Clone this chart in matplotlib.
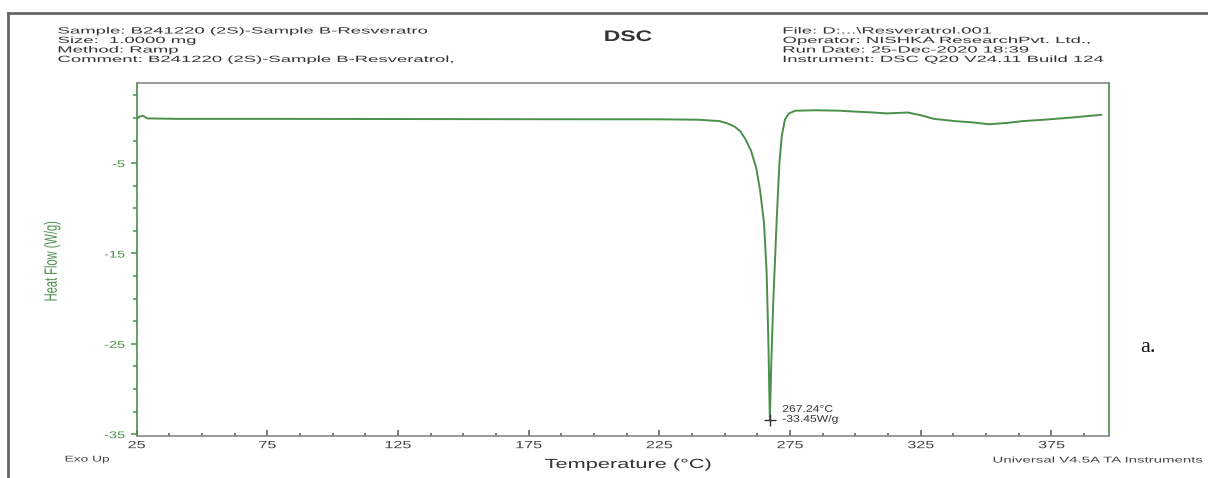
import numpy as np
import matplotlib.pyplot as plt
from matplotlib.ticker import MultipleLocator
from matplotlib.lines import Line2D
from matplotlib.transforms import Affine2D
from matplotlib import patheffects

plt.rcParams['font.family'] = ['Liberation Sans', 'DejaVu Sans']
plt.rcParams['axes.unicode_minus'] = False

# DSC trace
temp = [25, 26, 27.5, 29, 40, 75, 125, 175, 225, 240, 248, 251, 254, 256, 258,
        260, 262, 263.5, 265, 266, 266.7, 267.24, 267.8, 268.6, 269.9, 270.9,
        271.8, 273, 274.5, 277, 285, 294, 300, 307, 312, 316, 320, 325, 330,
        338, 345, 351, 358, 364, 372, 383, 394]
heat_flow = [-0.13, 0.15, 0.24, -0.05, -0.1, -0.1, -0.12, -0.14, -0.15, -0.2,
             -0.35, -0.6, -1.0, -1.5, -2.4, -3.6, -5.5, -8, -11.6, -17, -25,
             -33.45, -27, -20, -11, -5, -2, -0.2, 0.5, 0.8, 0.85, 0.8, 0.7, 0.6,
             0.5, 0.55, 0.6, 0.3, -0.1, -0.35, -0.5, -0.7, -0.55, -0.35, -0.2,
             0.05, 0.35]
peak_t, peak_hf = 267.24, -33.45
x_ticks = [25, 75, 125, 175, 225, 275, 325, 375]
y_ticks = [-5, -15, -25, -35]

header_left = ["Sample: B241220 (2S)-Sample B-Resveratro",
               "Size:  1.0000 mg",
               "Method: Ramp",
               "Comment: B241220 (2S)-Sample B-Resveratrol,"]
header_right = ["File: D:...\\Resveratrol.001",
                "Operator: NISHKA ResearchPvt. Ltd.,",
                "Run Date: 25-Dec-2020 18:39",
                "Instrument: DSC Q20 V24.11 Build 124"]

green = '#4a8f4a'
grey = '#555555'
W, H = 1208, 478


class HStretch(patheffects.AbstractPathEffect):
    """widen text horizontally (the source scan is stretched sideways)"""

    def __init__(self, sx, anchor='left'):
        super().__init__()
        self.sx = sx
        self.anchor = anchor

    def draw_path(self, renderer, gc, tpath, affine, rgbFace=None):
        ext = tpath.get_extents(affine)
        if self.anchor == 'left':
            x0 = ext.x0
        elif self.anchor == 'right':
            x0 = ext.x1
        else:
            x0 = (ext.x0 + ext.x1) / 2
        st = Affine2D().translate(-x0, 0).scale(self.sx, 1).translate(x0, 0)
        renderer.draw_path(gc, tpath, affine + st, rgbFace)


def stretched(sx, anchor='left'):
    return [HStretch(sx, anchor)]


fig = plt.figure(figsize=(W / 100, H / 100), dpi=100)
ax = fig.add_axes([136.7 / W, 1 - 436 / H, (1109 - 136.7) / W, (436 - 82.7) / H])

ax.plot(temp, heat_flow, color=green, lw=1.4)
ax.plot(peak_t, peak_hf, marker='+', color='#333333', ms=9, mew=1.0)
ax.text(peak_t + 4.8, peak_hf + 0.7, "267.24\u00b0C\n-33.45W/g", fontsize=7,
        color='#333333', va='center', linespacing=1.0,
        path_effects=stretched(1.25))

ax.set_xlim(25, 397)
ax.set_ylim(-35.2, 3.9)
ax.set_xticks(x_ticks)
ax.set_yticks(y_ticks)
ax.xaxis.set_minor_locator(MultipleLocator(12.5))
ax.yaxis.set_minor_locator(MultipleLocator(2.5))
ax.tick_params(axis='x', direction='in', labelsize=7.5, labelcolor='#444444',
               color=grey, length=4, width=1.1, pad=3)
ax.tick_params(axis='x', which='minor', direction='in', color=grey,
               length=2.5, width=1.1)
ax.tick_params(axis='y', direction='out', labelsize=7, labelcolor=green,
               color=green, length=4.5, width=1.1, pad=4)
ax.tick_params(axis='y', which='minor', direction='out', color=green,
               length=3, width=1.1)
for lbl in ax.get_xticklabels():
    lbl.set_path_effects(stretched(1.55, 'center'))
for lbl in ax.get_yticklabels():
    lbl.set_path_effects(stretched(1.5, 'right'))

ax.spines['left'].set_color(green)
ax.spines['right'].set_color(green)
ax.spines['top'].set_color('#888888')
ax.spines['bottom'].set_color('#888888')
for s in ax.spines.values():
    s.set_linewidth(1.2)

fig.text(628 / W, 1 - 465 / H, "Temperature (\u00b0C)", fontsize=9.5,
         color='#333333', ha='center', va='center',
         path_effects=stretched(1.65, 'center'))
fig.text(52 / W, 1 - 261 / H, "Heat Flow (W/g)", fontsize=8, color=green,
         rotation=90, ha='center', va='center',
         path_effects=stretched(1.6, 'center'))

# header block
for i, line in enumerate(header_left):
    fig.text(58 / W, 1 - (31 + 9.5 * i) / H, line, fontsize=6.5,
             color='#333333', va='center', path_effects=stretched(2.05))
for i, line in enumerate(header_right):
    fig.text(783 / W, 1 - (31 + 9.5 * i) / H, line, fontsize=6.5,
             color='#333333', va='center', path_effects=stretched(2.05))
fig.text(628 / W, 1 - 37 / H, "DSC", fontsize=11, fontweight='bold',
         color='#333333', ha='center', va='center',
         path_effects=stretched(1.5, 'center'))

fig.text(65 / W, 1 - 460 / H, "Exo Up", fontsize=6, color='#444444',
         va='center', path_effects=stretched(1.65))
fig.text(993 / W, 1 - 461 / H, "Universal V4.5A TA Instruments",
         fontsize=6, color='#444444', va='center', path_effects=stretched(1.8))
fig.text(1140 / W, 1 - 347 / H, "a.", fontsize=16,
         family='Liberation Serif', color='#111111', va='center')

# outer frame (left and top edges)
fig.add_artist(Line2D([8 / W, 8 / W], [0, 1 - 13 / H],
                      transform=fig.transFigure, color='#666666', lw=2))
fig.add_artist(Line2D([8 / W, 1], [1 - 13 / H, 1 - 13 / H],
                      transform=fig.transFigure, color='#666666', lw=2))

fig.savefig('out.png', dpi=100)
